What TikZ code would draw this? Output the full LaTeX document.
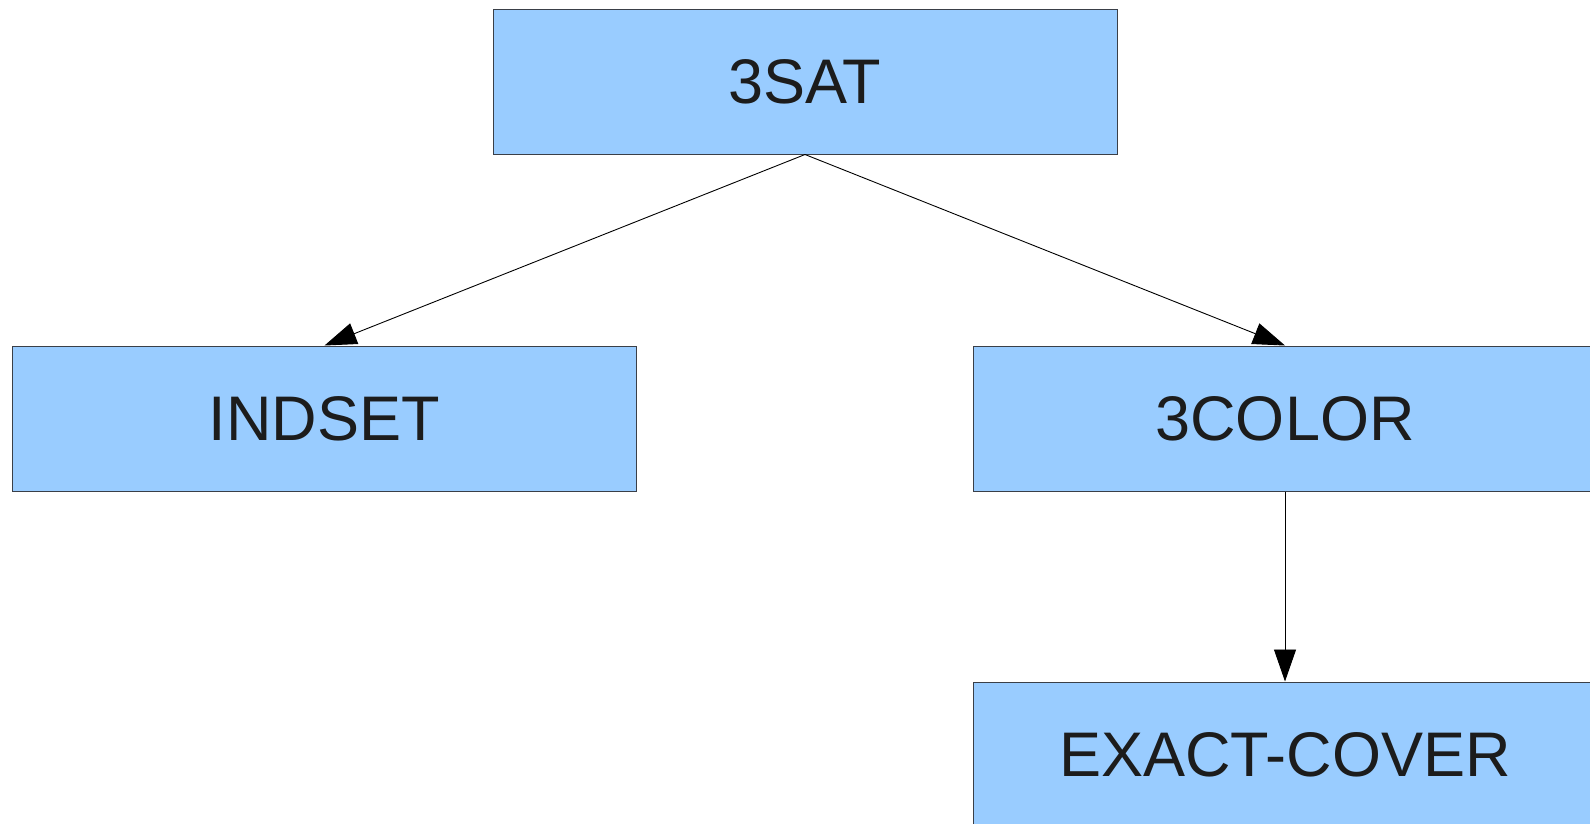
\documentclass[tikz,border=0pt]{standalone}
\usepackage{fontspec}
\setmainfont{Liberation Sans}
\usetikzlibrary{arrows.meta}
\definecolor{boxfill}{HTML}{99CCFF}
\definecolor{boxline}{HTML}{3A3F48}
\definecolor{textdark}{HTML}{1C1C1C}
\begin{document}
\begin{tikzpicture}[x=1pt,y=-1pt,
  probbox/.style={draw=boxline, line width=1pt, fill=boxfill, rectangle,
    minimum width=624pt, minimum height=145pt, inner sep=0pt,
    text=textdark, font=\fontsize{63}{63}\selectfont},
  reduction/.style={draw=black, line width=0.9pt,
    -{Triangle[length=32pt,width=22pt]}}]
  \clip (0,0) rectangle (1590,823);
  \fill[white] (0,0) rectangle (1590,823);
  \node[probbox] (sat)   at (805,81.5)   {3SAT};
  \node[probbox] (ind)   at (324.5,418.5) {INDSET};
  \node[probbox] (col)   at (1285,418.5) {3COLOR};
  \node[probbox] (exact) at (1285,754.5) {EXACT-COVER};
  \draw[reduction] (sat.south) -- (ind.north);
  \draw[reduction] (sat.south) -- (col.north);
  \draw[reduction] (col.south) -- (exact.north);
\end{tikzpicture}
\end{document}
